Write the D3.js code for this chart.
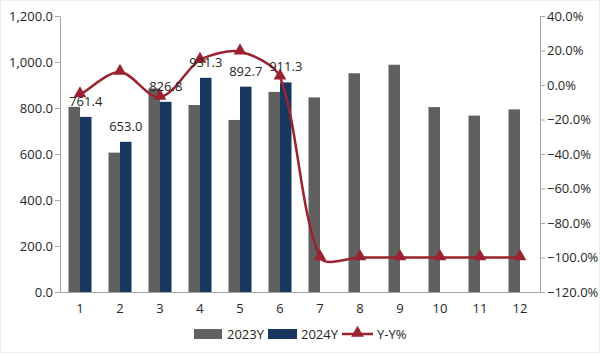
<!DOCTYPE html>
<html><head><meta charset="utf-8">
<script src="https://cdn.jsdelivr.net/npm/d3@7"></script>
<style>body{margin:0;background:#fff;} svg{display:block;} text{font-family:"Open Sans","Noto Sans",sans-serif;}</style>
</head><body>
<svg id="c" width="600" height="356"></svg>
<script>
const months = ["1","2","3","4","5","6","7","8","9","10","11","12"];
const values2023 = [805, 606, 885, 813, 748, 870, 846, 951, 988, 804, 767, 794];
const values2024 = [761.4, 653.0, 826.8, 931.3, 892.7, 911.3, null, null, null, null, null, null];
const yoyPct = [-5.6, 7.5, -7.0, 14.5, 19.3, 4.7, -100, -100, -100, -100, -100, -100];
const leftTicks = [0, 200, 400, 600, 800, 1000, 1200];
const rightTicks = [-120, -100, -80, -60, -40, -20, 0, 20, 40];
const seriesNames = ["2023Y", "2024Y", "Y-Y%"];

const svg = d3.select("#c");
const W = 600, H = 356;
const m = {l: 60, r: 60, t: 16, b: 64};
const x0 = m.l, x1 = W - m.r, y0 = H - m.b, y1 = m.t;
const c2023 = "#606060", c2024 = "#17375e", cLine = "#9b2230", axisC = "#a6a6a6", txtC = "#262626";

svg.append("rect").attr("x",0.5).attr("y",0.5).attr("width",W-1).attr("height",H-4).attr("fill","none").attr("stroke","#eeeeee");

const x = d3.scaleBand().domain(months).range([x0, x1]).paddingInner(0.425).paddingOuter(0.2125);
const xs = d3.scaleBand().domain(["a","b"]).range([0, x.bandwidth()]);
const yL = d3.scaleLinear().domain([0, 1200]).range([y0, y1]);
const yR = d3.scaleLinear().domain([-120, 40]).range([y0, y1]);
const xc = d => x(d) + x.bandwidth()/2;

// bars
svg.append("g").selectAll("rect").data(months).join("rect")
  .attr("x", (d)=>x(d)+xs("a")).attr("width", xs.bandwidth())
  .attr("y", (d,i)=>yL(values2023[i])).attr("height",(d,i)=>y0-yL(values2023[i]))
  .attr("fill", c2023);
svg.append("g").selectAll("rect").data(months.filter((d,i)=>values2024[i]!=null)).join("rect")
  .attr("x", (d)=>x(d)+xs("b")).attr("width", xs.bandwidth())
  .attr("y", (d,i)=>yL(values2024[i])).attr("height",(d,i)=>y0-yL(values2024[i]))
  .attr("fill", c2024);

// axes
const gL = svg.append("g").attr("transform",`translate(${x0},0)`)
  .call(d3.axisLeft(yL).tickValues(leftTicks).tickSize(5).tickSizeOuter(0).tickFormat(d3.format(",.1f")));
const gR = svg.append("g").attr("transform",`translate(${x1},0)`)
  .call(d3.axisRight(yR).tickValues(rightTicks).tickSize(5).tickSizeOuter(0).tickFormat(d=>d3.format(".1f")(d)+"%"));
const gB = svg.append("g").attr("transform",`translate(0,${y0})`)
  .call(d3.axisBottom(x).tickSize(0).tickPadding(12));
[gL,gR,gB].forEach(g=>{
  g.selectAll("path,line").attr("stroke",axisC);
  g.selectAll("text").attr("fill",txtC).style("font-size","13px");
});
gL.selectAll("text").attr("x",-7);
gR.selectAll("text").attr("x",7);
svg.append("line").attr("x1",x0-5).attr("x2",x0).attr("y1",y0+0.5).attr("y2",y0+0.5).attr("stroke",axisC);

// smoothed line (Excel-like: tangent along neighbours, handle length per segment)
function smoothPath(p, k) {
  const path = d3.path();
  const n = p.length;
  const tan = p.map((q,i)=>{
    const a = p[Math.max(0,i-1)], b = p[Math.min(n-1,i+1)];
    const dx = b[0]-a[0], dy = b[1]-a[1], L = Math.hypot(dx,dy) || 1;
    return [dx/L, dy/L];
  });
  path.moveTo(p[0][0], p[0][1]);
  for (let i=0;i<n-1;i++){
    const a=p[i], b=p[i+1];
    const d = Math.hypot(b[0]-a[0], b[1]-a[1]);
    path.bezierCurveTo(a[0]+tan[i][0]*d*k, a[1]+tan[i][1]*d*k,
                       b[0]-tan[i+1][0]*d*k, b[1]-tan[i+1][1]*d*k, b[0], b[1]);
  }
  return path.toString();
}
const pts = months.map((d,i)=>[xc(d), yR(yoyPct[i])]);
svg.append("path").attr("d", smoothPath(pts, 0.27))
  .attr("fill","none").attr("stroke",cLine).attr("stroke-width",2.5);
const tri = d3.symbol().type(d3.symbolTriangle).size(70);
svg.append("g").selectAll("path").data(pts).join("path")
  .attr("transform",d=>`translate(${d[0]},${d[1]-1})`).attr("d",tri()).attr("fill",cLine);

// labels
svg.append("g").selectAll("text").data(months.filter((d,i)=>values2024[i]!=null)).join("text")
  .attr("x",(d)=>x(d)+xs("b")+xs.bandwidth()/2)
  .attr("y",(d,i)=>yL(values2024[i])-11)
  .attr("text-anchor","middle").attr("fill",txtC).style("font-size","13px")
  .text((d,i)=>d3.format(".1f")(values2024[i]));

// legend
const lg = svg.append("g").attr("transform",`translate(0,334)`);
lg.append("rect").attr("x",194).attr("y",-5).attr("width",28).attr("height",10).attr("fill",c2023);
lg.append("text").attr("x",227).attr("y",5).text(seriesNames[0]).attr("fill",txtC).style("font-size","13px");
lg.append("rect").attr("x",268).attr("y",-5).attr("width",29).attr("height",10).attr("fill",c2024);
lg.append("text").attr("x",301).attr("y",5).text(seriesNames[1]).attr("fill",txtC).style("font-size","13px");
lg.append("line").attr("x1",342).attr("x2",373).attr("y1",0).attr("y2",0).attr("stroke",cLine).attr("stroke-width",2.5);
lg.append("path").attr("transform","translate(357.5,-1)").attr("d",tri()).attr("fill",cLine);
lg.append("text").attr("x",377).attr("y",5).text(seriesNames[2]).attr("fill",txtC).style("font-size","13px");
</script>
</body></html>
